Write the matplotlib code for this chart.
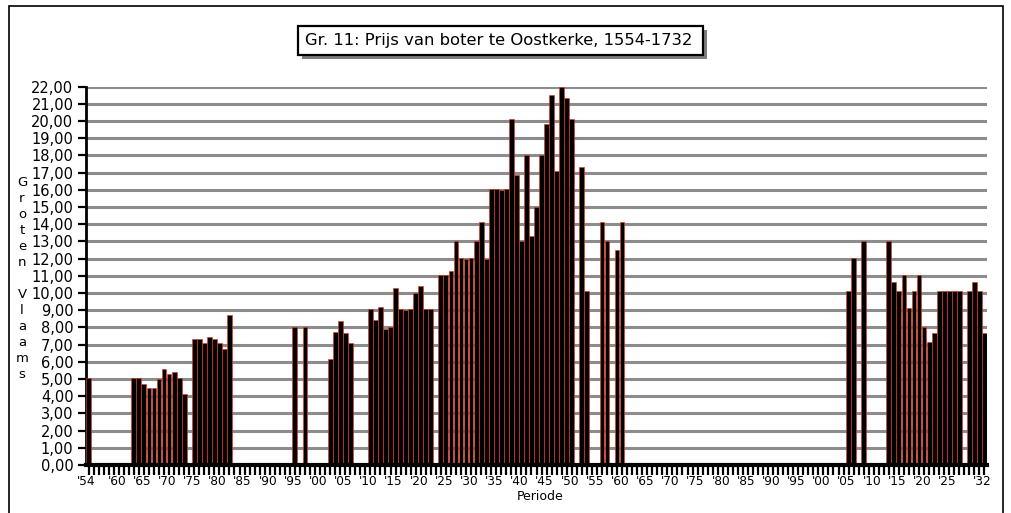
import matplotlib
matplotlib.use("Agg")
import matplotlib.pyplot as plt
from matplotlib.patches import Rectangle

# prijs van boter per jaar (groten Vlaams); jaren zonder notering ontbreken
jaren = [1554,
         1563, 1564, 1565, 1566, 1567, 1568, 1569, 1570, 1571, 1572, 1573,
         1575, 1576, 1577, 1578, 1579, 1580, 1581, 1582,
         1595, 1597,
         1602, 1603, 1604, 1605, 1606,
         1610, 1611, 1612, 1613, 1614, 1615, 1616, 1617, 1618, 1619, 1620, 1621, 1622,
         1624, 1625, 1626, 1627, 1628, 1629, 1630, 1631, 1632, 1633, 1634, 1635, 1636,
         1637, 1638, 1639, 1640, 1641, 1642, 1643, 1644, 1645, 1646, 1647, 1648, 1649,
         1650, 1652, 1653, 1656, 1657, 1659, 1660,
         1705, 1706, 1708,
         1713, 1714, 1715, 1716, 1717, 1718, 1719, 1720, 1721, 1722, 1723, 1724, 1725,
         1726, 1727, 1729, 1730, 1731, 1732]
prijs = [5.05,
         5.05, 5.05, 4.7, 4.5, 4.5, 5.0, 5.6, 5.3, 5.4, 5.05, 4.1,
         7.3, 7.35, 7.1, 7.45, 7.35, 7.1, 6.75, 8.75,
         8.0, 8.0,
         6.15, 7.75, 8.4, 7.65, 7.1,
         9.05, 8.45, 9.2, 7.9, 8.05, 10.3, 9.05, 9.0, 9.05, 10.0, 10.4, 9.05, 9.05,
         11.05, 11.05, 11.3, 13.05, 12.05, 12.0, 12.05, 13.05, 14.1, 12.0, 16.05, 16.05, 16.0,
         16.05, 20.1, 16.85, 13.05, 18.05, 13.3, 15.0, 18.05, 19.8, 21.5, 17.1, 22.0, 21.35,
         20.1, 17.35, 10.1, 14.15, 13.05, 12.5, 14.15,
         10.1, 12.05, 13.05,
         13.05, 10.65, 10.1, 11.05, 9.1, 10.1, 11.05, 8.05, 7.15, 7.7, 10.1, 10.1, 10.1,
         10.1, 10.1, 10.1, 10.65, 10.1, 7.7]

label_jaren = [1554, 1560, 1565, 1570, 1575, 1580, 1585, 1590, 1595, 1600, 1605, 1610,
               1615, 1620, 1625, 1630, 1635, 1640, 1645, 1650, 1655, 1660, 1665, 1670,
               1675, 1680, 1685, 1690, 1695, 1700, 1705, 1710, 1715, 1720, 1725, 1732]

W, H = 1011, 513
plt.rcParams['font.family'] = ['DejaVu Sans']
fig = plt.figure(figsize=(W / 100, H / 100), dpi=100)
ax = fig.add_axes([86 / W, 1 - 465 / H, 901 / W, (465 - 86.6) / H])

ax.bar(jaren, prijs, width=0.96, color='black', edgecolor='#e8391c', linewidth=0.45, zorder=3)

ax.set_xlim(1553.5, 1732.5)
ax.set_ylim(0, 22)
ax.set_yticks(range(0, 23))
ax.set_yticklabels([f"{v:.2f}".replace('.', ',') for v in range(0, 23)], fontsize=10.5)
ax.yaxis.grid(True, color='#8c8c8c', linewidth=2.2)
ax.set_axisbelow(True)

# elk jaar een streepje, labels apart
ax.set_xticks(range(1554, 1733))
ax.set_xticklabels([])
ax.set_xticks([j - 0.4 for j in label_jaren], minor=True)
ax.set_xticklabels(["'" + str(j)[2:] for j in label_jaren], minor=True, fontsize=8.7)
ax.tick_params(axis='x', which='major', length=7, width=1.6, color='black', direction='out')
ax.tick_params(axis='x', which='minor', length=0, pad=7.5)
ax.tick_params(axis='y', length=6, width=1.6, pad=3)

for s in ['top', 'right']:
    ax.spines[s].set_visible(False)
ax.spines['left'].set_linewidth(2)
ax.spines['bottom'].set_linewidth(3)
ax.spines['bottom'].set_zorder(4)

fig.text(540 / W, 1 - 497 / H, "Periode", ha='center', va='center', fontsize=9)
fig.text(22 / W, 1 - 278 / H, "G\nr\no\nt\ne\nn\n\nV\nl\na\na\nm\ns",
         ha='center', va='center', fontsize=9.5, linespacing=1.3)

# titel in kader met schaduw
fig.patches.append(Rectangle((302 / W, 1 - 59 / H), 405 / W, 29 / H, transform=fig.transFigure,
                             facecolor='#7f7f7f', edgecolor='none'))
fig.patches.append(Rectangle((298 / W, 1 - 55 / H), 405 / W, 29 / H, transform=fig.transFigure,
                             facecolor='white', edgecolor='black', linewidth=1.6))
fig.text(499 / W, 1 - 41 / H, "Gr. 11: Prijs van boter te Oostkerke, 1554-1732",
         ha='center', va='center', fontsize=11.8)

# buitenkader
fig.patches.append(Rectangle((9 / W, -0.05), 994 / W, 1.05 - 6 / H, transform=fig.transFigure,
                             facecolor='none', edgecolor='black', linewidth=1.2))

fig.savefig("out.png", dpi=100)
